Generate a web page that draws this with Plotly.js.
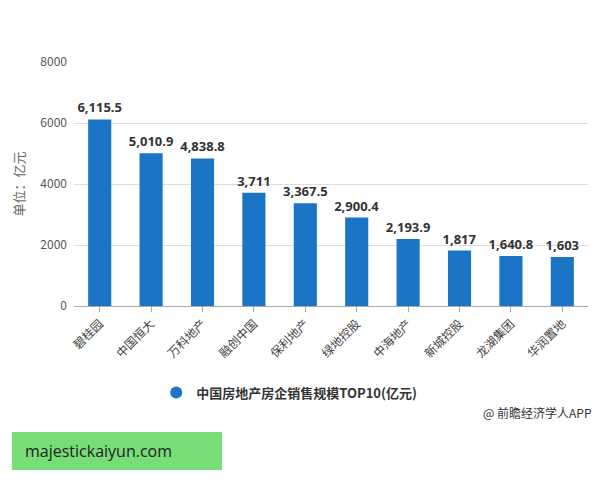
<!DOCTYPE html>
<html><head><meta charset="utf-8">
<script src="https://cdn.plot.ly/plotly-3.0.1.min.js"></script>
<style>body{margin:0;background:#fff}#c{width:600px;height:480px}</style>
</head><body><div id="c"></div>
<script>
const categories = ["碧桂园","中国恒大","万科地产","融创中国","保利地产","绿地控股","中海地产","新城控股","龙湖集团","华润置地"];
const sales = [6115.5, 5010.9, 4838.8, 3711, 3367.5, 2900.4, 2193.9, 1817, 1640.8, 1603];
const labels = ["6,115.5","5,010.9","4,838.8","3,711","3,367.5","2,900.4","2,193.9","1,817","1,640.8","1,603"];
const seriesName = "中国房地产房企销售规模TOP10(亿元)";
const yTicks = [0, 2000, 4000, 6000, 8000];

const F = '"Noto Sans CJK SC", "Noto Sans", sans-serif';
const blue = '#1a75c6';

const traces = [
  {type:'bar', x:categories, y:sales, text:labels, textposition:'outside', cliponaxis:false,
   constraintext:'none',
   textfont:{family:'"Open Sans", "Noto Sans", sans-serif', size:13, color:'#333', weight:'bold'},
   marker:{color:blue}, width:0.45, showlegend:false, hoverinfo:'none'},
  {type:'scatter', mode:'markers', x:[null], y:[null], name:seriesName,
   marker:{symbol:'circle', size:13, color:blue}, showlegend:true}
];

const layout = {
  width:600, height:480,
  margin:{l:74, r:12, t:62, b:174},
  paper_bgcolor:'#fff', plot_bgcolor:'#fff',
  font:{family:F, color:'#555'},
  uniformtext:{mode:false},
  xaxis:{type:'category', tickangle:-45, tickfont:{family:F, size:12, color:'#444'},
         showline:true, linecolor:'#aaa', ticks:'outside', ticklen:5, tickcolor:'#aaa',
         showgrid:false, fixedrange:true},
  yaxis:{range:[0,8000], tickvals:yTicks, ticktext:yTicks.map(String),
         tickfont:{family:F, size:12, color:'#555'}, gridcolor:'#ddd', zeroline:false,
         showline:false, ticks:'', ticklabelstandoff:6,
         title:{text:'单位：亿元', font:{family:F, size:13, color:'#666'}, standoff:12}},
  showlegend:true,
  legend:{orientation:'h', x:0.16, xanchor:'left', y:-0.355, yanchor:'middle',
          font:{family:F, size:13, color:'#333', weight:'bold'}, itemsizing:'constant'},
  shapes:[{type:'rect', xref:'paper', yref:'paper', x0:-0.121, x1:0.288,
           y0:(306-470)/244, y1:(306-432)/244, fillcolor:'#77dd77', line:{width:0}}],
  annotations:[
    {xref:'paper', yref:'paper', x:1.012, y:(306-413)/244, xanchor:'right', yanchor:'middle',
     text:'@ 前瞻经济学人APP', showarrow:false, font:{family:F, size:12, color:'#333'}},
    {xref:'paper', yref:'paper', x:-0.1, y:(306-451)/244, xanchor:'left', yanchor:'middle',
     text:'majestickaiyun.com', showarrow:false, font:{family:'"Open Sans", sans-serif', size:16, color:'#222'}}
  ]
};
Plotly.newPlot('c', traces, layout, {displayModeBar:false, staticPlot:true});
</script></body></html>
